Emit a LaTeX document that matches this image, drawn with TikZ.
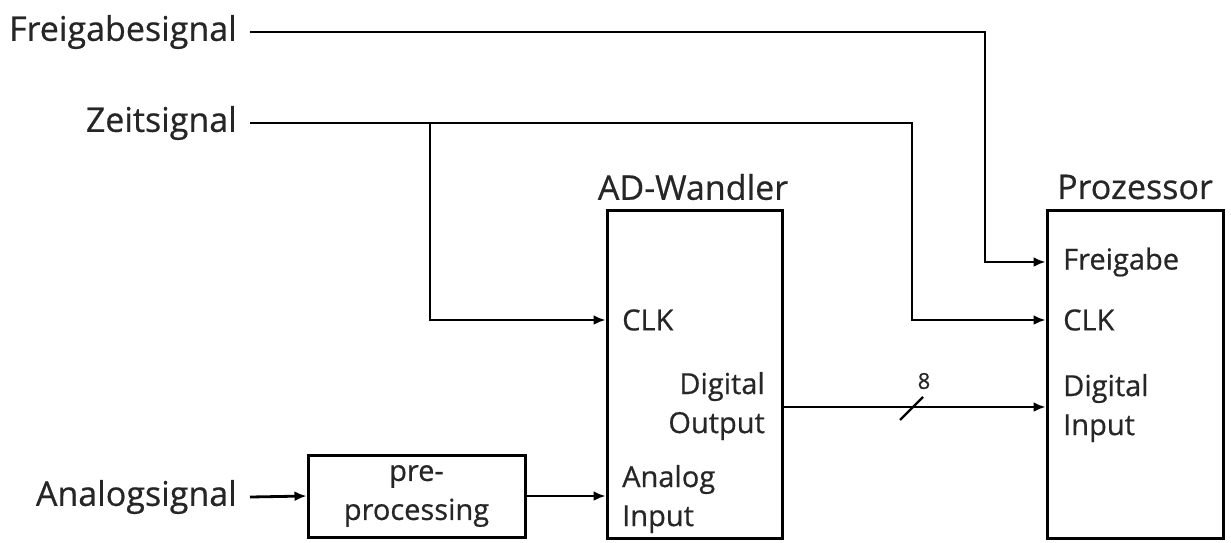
\documentclass[tikz,border=0pt]{standalone}
\usepackage{fontspec}
\setmainfont{Open Sans}[FakeBold=0.6]
\usetikzlibrary{arrows.meta,positioning}

\begin{document}
\begin{tikzpicture}[
  x=1pt,y=-1pt,
  blk/.style={draw,line width=3pt,inner sep=0pt},
  wire/.style={line width=2.8pt},
  sig/.style={wire,-{Latex[length=12pt,width=10pt]}},
  lbl/.style={font=\fontsize{34}{40}\selectfont,text=black!85,inner sep=0pt},
  port/.style={font=\fontsize{29}{39}\selectfont,text=black!85,inner sep=0pt},
]
  \useasboundingbox (0,0) rectangle (1231,542);

  % Signal sources
  \node[lbl,anchor=east] (fsig) at (237,32)  {Freigabesignal};
  \node[lbl,anchor=east] (zsig) at (237,123) {Zeitsignal};
  \node[lbl,anchor=east] (asig) at (237,497) {Analogsignal};

  % Blocks
  \node[blk,minimum width=217pt,minimum height=82pt,port,align=center]
    (pre) at (416.5,496) {pre-\\processing};
  \node[blk,minimum width=175pt,minimum height=328pt] (adc) at (694.5,374) {};
  \node[blk,minimum width=176pt,minimum height=328pt] (cpu) at (1135,374) {};

  % Block titles
  \node[lbl] (adct) at (693,187)  {AD-Wandler};
  \node[lbl] (cput) at (1135,187) {Prozessor};

  % AD-Wandler ports
  \node[port,anchor=west] (adclk) at (622,320) {CLK};
  \node[port,anchor=east,align=right] (adout) at (765,406) {Digital\\Output};
  \node[port,anchor=west,align=left]  (adain) at (622,499) {Analog\\Input};

  % Prozessor ports
  \node[port,anchor=west] (cpuen)  at (1063,262) {Freigabe};
  \node[port,anchor=west] (cpuclk) at (1063,320) {CLK};
  \node[port,anchor=west,align=left] (cpuin) at (1063,408) {Digital\\Input};

  % Pin points on the block borders
  \coordinate (adc-clk) at (adc.west |- adclk);
  \coordinate (adc-ain) at (adc.west |- pre);
  \coordinate (adc-out) at (adc.east |- 0,407);
  \coordinate (cpu-en)  at (cpu.west |- cpuen);
  \coordinate (cpu-clk) at (cpu.west |- cpuclk);
  \coordinate (cpu-in)  at (cpu.west |- adc-out);

  % Bends
  \coordinate (fturn)  at (985,262);
  \coordinate (zturn)  at (912,320);
  \coordinate (zsplit) at (430,123);

  % Connectors
  \draw[sig] ([xshift=13pt]fsig.east) -| (fturn) -- (cpu-en);
  \draw[sig] ([xshift=13pt]zsig.east) -| (zturn) -- (cpu-clk);
  \draw[sig] (zsplit) |- (adc-clk);
  \draw[sig] ([xshift=13pt]asig.east) -- (pre.west);
  \draw[sig] (pre.east) -- (adc-ain);
  \draw[sig] (adc-out) -- (cpu-in);

  % Bus width mark
  \draw[wire,line width=2.2pt] (900,420) -- (923,397);
  \node[port,font=\fontsize{22}{24}\selectfont] (bus) at (924,381) {8};
\end{tikzpicture}
\end{document}
